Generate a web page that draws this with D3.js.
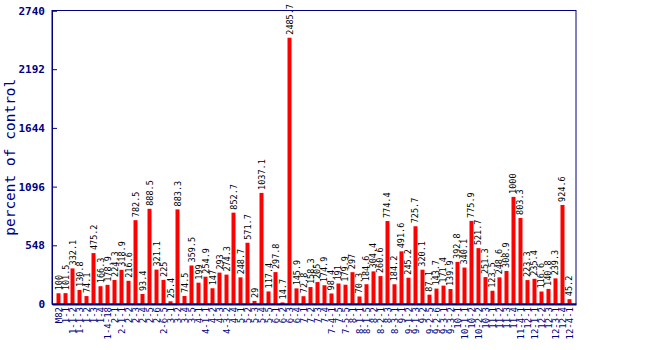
<!DOCTYPE html>
<html><head><meta charset="utf-8">
<script src="https://cdn.jsdelivr.net/npm/d3@7"></script>
<style>body{margin:0;background:#fff}svg{display:block}</style>
</head><body>
<svg id="chart" width="650" height="350"></svg>
<script>
const categories = ["M82","1-1","1-1-2","1-1-3","1-2","1-3","1-4","1-4-18","2-1","2-1-1","2-2","2-3","2-4","2-5","2-6","2-6-5","3-1","3-2","3-4","3-5","4-1","4-1-1","4-2","4-3","4-3-2","4-4","5-1","5-2","5-3","5-4","5-5","6-1","6-2","6-3","6-4","7-1","7-2","7-3","7-4","7-4-1","7-5","7-5-5","8-1","8-1-1","8-1-5","8-2","8-2-1","8-3","8-3-1","9-1","9-1-2","9-1-3","9-2","9-2-5","9-2-6","9-3-1","9-3-2","10-1","10-1-1","10-2","10-2-2","10-3","11-1","11-2","11-3","11-4","11-4-1","12-1","12-1-1","12-2","12-3","12-3-1","12-4","12-4-1"];
const values = [100,101.5,332.1,130.8,74.1,475.2,166.3,178.9,224.3,318.9,216.6,782.5,93.4,888.5,321.1,225,25.4,883.3,74.5,359.5,199,254.9,147,293,274.3,852.7,248.7,571.7,29,1037.1,117.4,297.8,14.7,2485.7,145.9,72.8,158.3,205,174.9,98.4,191,179.9,297,70.3,184.6,304.4,260.6,774.4,184.2,491.6,245.2,725.7,320.1,87.1,143.7,171.4,139.9,392.8,340.1,775.9,521.7,251.3,123.5,248.6,308.9,1000,803.3,223.3,235.4,116.6,140.8,239.3,924.6,45.2];
const yTicks = [0,548,1096,1644,2192,2740];

const navy = "#000080";
const svg = d3.select("#chart");
const L = 52, R = 576, T = 10.5, B = 304;

const x = d3.scalePoint().domain(categories).range([L, R]).padding(0.93);
const y = d3.scaleLinear().domain([0, 2740]).range([B, T]);

// bars
svg.append("g").selectAll("rect").data(values).join("rect")
  .attr("x", (d,i) => x(categories[i]) - 2)
  .attr("width", 4)
  .attr("y", d => y(d))
  .attr("height", d => B - y(d))
  .attr("fill", "#ff0000");

// value labels
svg.append("g").selectAll("text").data(values).join("text")
  .attr("transform", (d,i) => `translate(${x(categories[i]) + 3},${y(d) - 3}) rotate(-90)`)
  .attr("font-family", "DejaVu Sans Mono, monospace")
  .attr("font-size", 8.5)
  .attr("fill", "#000")
  .text(d => String(d));

// frame
svg.append("rect").attr("x", L).attr("y", T).attr("width", R - L).attr("height", B - T)
  .attr("fill", "none").attr("stroke", navy).attr("stroke-width", 1);

// y axis
const ya = svg.append("g").attr("transform", `translate(${L},0)`)
  .call(d3.axisLeft(y).tickValues(yTicks).tickSize(-5).tickPadding(7).tickFormat(d3.format("d")));
ya.select(".domain").attr("stroke", navy);
ya.selectAll(".tick line").attr("stroke", navy);
ya.selectAll("text").attr("fill", navy).attr("font-family", "DejaVu Sans Mono, monospace")
  .attr("font-size", 11).attr("font-weight", "bold");

// x axis
const xa = svg.append("g").attr("transform", `translate(0,${B})`)
  .call(d3.axisBottom(x).tickSize(0).tickPadding(0));
xa.select(".domain").attr("stroke", navy).attr("stroke-width", 2);
xa.selectAll("text")
  .attr("fill", navy)
  .attr("font-family", "DejaVu Sans Mono, monospace")
  .attr("font-size", 9)
  .attr("text-anchor", "end")
  .attr("dy", null)
  .attr("transform", "translate(3,3) rotate(-90)");

// y title
svg.append("text")
  .attr("transform", `translate(15,${(T + B) / 2}) rotate(-90)`)
  .attr("text-anchor", "middle")
  .attr("font-family", "DejaVu Sans Mono, monospace")
  .attr("font-size", 14.5)
  .attr("fill", navy)
  .text("percent of control");
</script>
</body></html>
